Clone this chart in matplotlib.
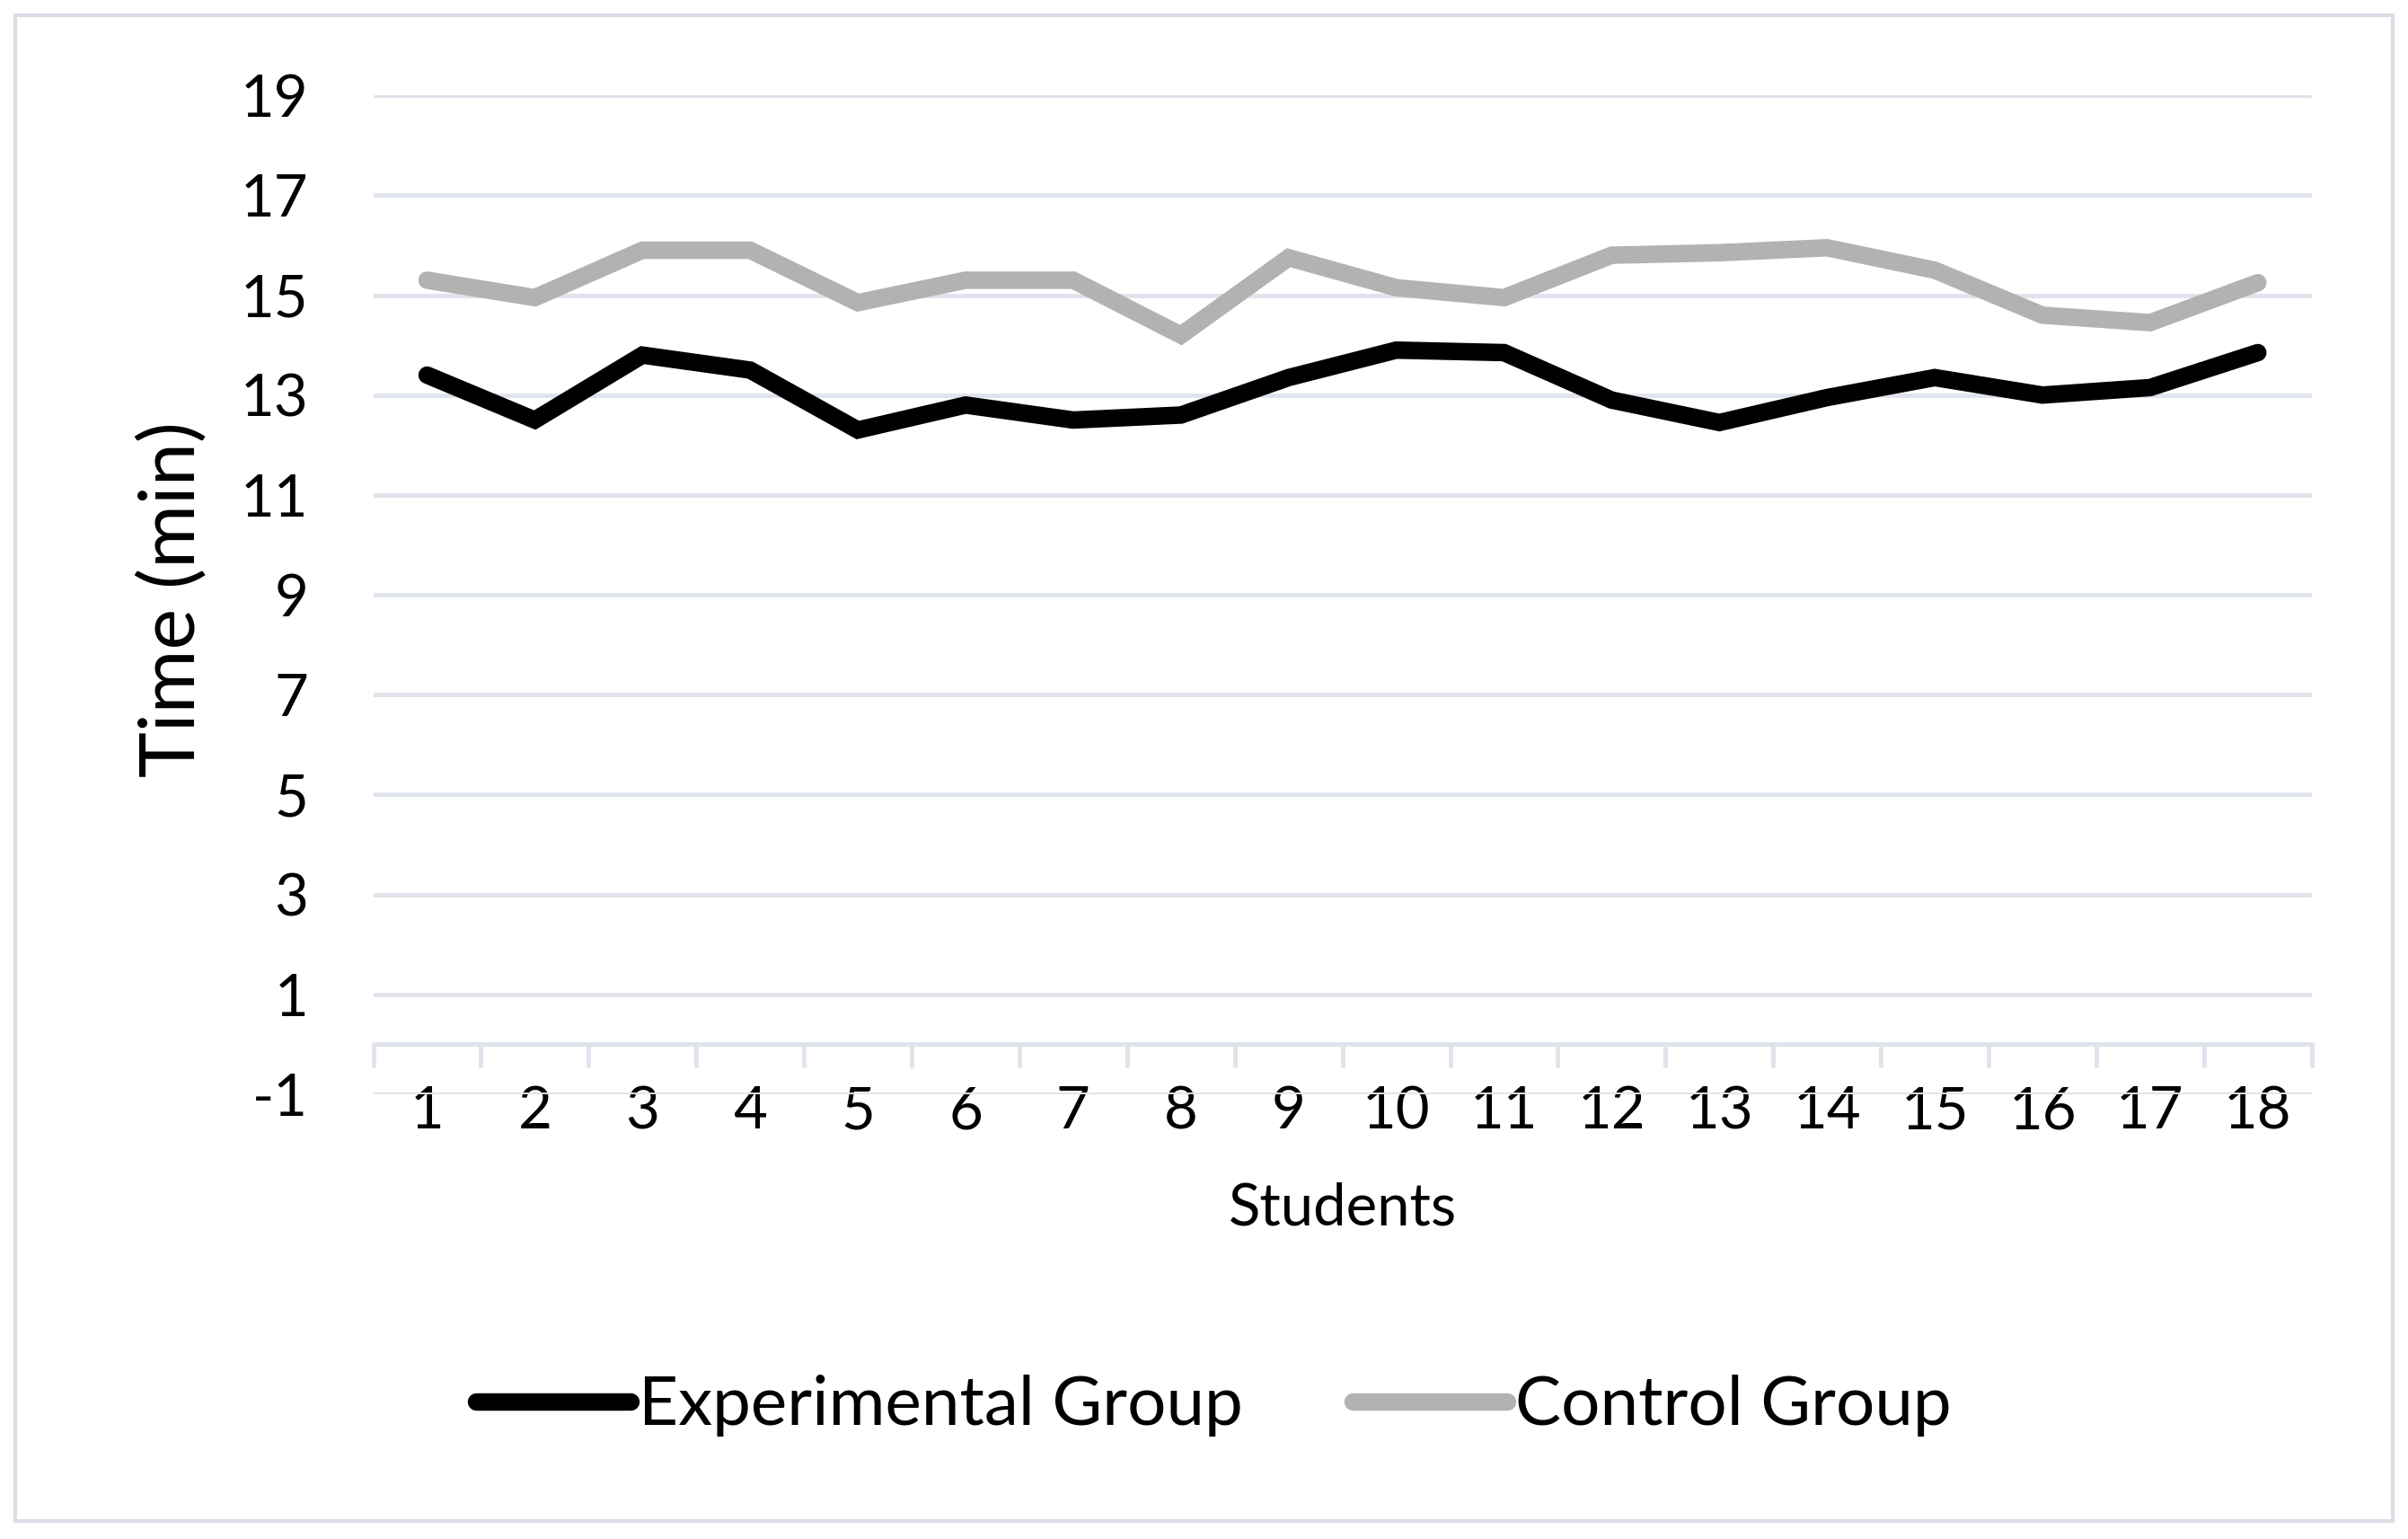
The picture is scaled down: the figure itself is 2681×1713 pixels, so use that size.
import numpy as np
import matplotlib
matplotlib.use("Agg")
import matplotlib.pyplot as plt
from matplotlib.patches import Rectangle

plt.rcParams['font.family'] = ['Lato', 'DejaVu Sans']
plt.rcParams['axes.unicode_minus'] = False

# Data
students = list(range(1, 19))
experimental = [13.4, 12.5, 13.8, 13.5, 12.3, 12.8, 12.5, 12.6, 13.35,
                13.9, 13.85, 12.9, 12.45, 12.95, 13.35, 13.0, 13.15, 13.85]
control = [15.3, 14.95, 15.9, 15.9, 14.85, 15.3, 15.3, 14.2, 15.75,
           15.15, 14.95, 15.8, 15.85, 15.95, 15.5, 14.6, 14.45, 15.25]
y_ticks = list(range(-1, 20, 2))

grid_col = '#DFE3EB'

fig = plt.figure(figsize=(26.81, 17.13), dpi=100)
ax = fig.add_axes([0.155, 0.289, 0.805, 0.649])

# lines
ax.plot(students, experimental, color='black', lw=14,
        solid_capstyle='round', solid_joinstyle='miter', label='Experimental Group')
ax.plot(students, control, color='#B2B2B2', lw=14,
        solid_capstyle='round', solid_joinstyle='miter', label='Control Group')

ax.set_xlim(0.5, 18.5)
ax.set_ylim(-1, 19)
ax.set_yticks(y_ticks)
ax.yaxis.grid(True, color=grid_col, lw=3.5)
ax.set_axisbelow(True)
ax.tick_params(axis='y', length=0, pad=52, labelsize=47)

for s in ['left', 'right', 'top']:
    ax.spines[s].set_visible(False)
ax.spines['bottom'].set_position(('data', 0))
ax.spines['bottom'].set_color(grid_col)
ax.spines['bottom'].set_linewidth(3.5)

ax.set_xticks(students)
ax.set_xticks(np.arange(0.5, 19, 1), minor=True)
ax.tick_params(axis='x', which='major', length=0, pad=33, labelsize=47)
ax.tick_params(axis='x', which='minor', length=18.5, width=3.5,
               color=grid_col, direction='out')

ax.set_xlabel('Students', fontsize=47)
ax.xaxis.set_label_coords(0.5, -0.114)
ax.xaxis.label.set_va('center')
ax.set_ylabel('Time (min)', fontsize=62)
ax.yaxis.set_label_coords(-0.1037, 0.4955)
ax.yaxis.label.set_va('center')

fig.legend(loc='center', bbox_to_anchor=(0.504, 0.0864), ncol=2, frameon=False,
           fontsize=55, handlelength=2.25, handletextpad=0.12, columnspacing=1.6)

# outer chart border
fig.patches.append(Rectangle((0.0065, 0.0117), 0.9872, 0.9783, transform=fig.transFigure,
                             fill=False, ec='#D9DEE6', lw=3))

fig.savefig('out.png', dpi=100)
